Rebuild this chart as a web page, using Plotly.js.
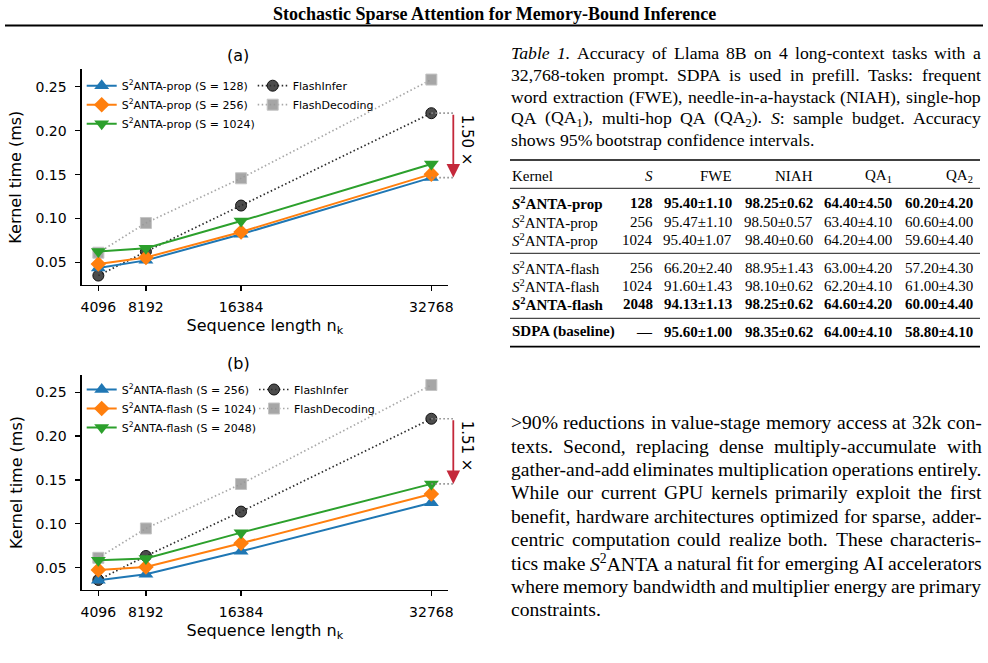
<!DOCTYPE html>
<html>
<head>
<meta charset="utf-8">
<script src="https://cdn.plot.ly/plotly-3.0.1.min.js"></script>
<style>
  html, body { margin: 0; padding: 0; background: #fff; }
  #fig { width: 988px; height: 663px; }
</style>
</head>
<body>
<div id="fig"></div>
<script>
// ---------- data ----------
const seqLen = [4096, 8192, 16384, 32768];
const seqTickText = ['4096', '8192', '16384', '32768'];
const timeTicks = [0.05, 0.10, 0.15, 0.20, 0.25];
const timeTickText = ['0.05', '0.10', '0.15', '0.20', '0.25'];

// (a) proportional-sampling kernels, kernel time in ms
const propS128 = [0.0438, 0.0525, 0.0822, 0.1466];
const propS256 = [0.0483, 0.0558, 0.0848, 0.1505];
const propS1024 = [0.0625, 0.0662, 0.0972, 0.1620];
const propLabels = ['S<sup>2</sup>ANTA-prop (S = 128)', 'S<sup>2</sup>ANTA-prop (S = 256)', 'S<sup>2</sup>ANTA-prop (S = 1024)'];
const flashInferA = [0.0352, 0.0625, 0.1148, 0.2198];
const flashDecodingA = [0.0612, 0.0950, 0.1458, 0.2580];

// (b) flash-style kernels, kernel time in ms
const flashS256 = [0.0355, 0.0425, 0.0687, 0.1240];
const flashS1024 = [0.0474, 0.0508, 0.0778, 0.1340];
const flashS2048 = [0.0585, 0.0605, 0.0899, 0.1455];
const flashLabels = ['S<sup>2</sup>ANTA-flash (S = 256)', 'S<sup>2</sup>ANTA-flash (S = 1024)', 'S<sup>2</sup>ANTA-flash (S = 2048)'];
const flashInferB = [0.0360, 0.0633, 0.1139, 0.2198];
const flashDecodingB = [0.0612, 0.0947, 0.1454, 0.2583];

const baselineNames = ['FlashInfer', 'FlashDecoding'];

// Table 1
const tableHeader = ['Kernel', '<i>S</i>', 'FWE', 'NIAH', 'QA<sub>1</sub>', 'QA<sub>2</sub>'];
const tableKernel = ['<i>S</i><sup>2</sup>ANTA-prop', '<i>S</i><sup>2</sup>ANTA-prop', '<i>S</i><sup>2</sup>ANTA-prop',
                     '<i>S</i><sup>2</sup>ANTA-flash', '<i>S</i><sup>2</sup>ANTA-flash', '<i>S</i><sup>2</sup>ANTA-flash',
                     'SDPA (baseline)'];
const tableBudget = ['128', '256', '1024', '256', '1024', '2048', '—'];
const tableFWE = ['95.40±1.10', '95.47±1.10', '95.40±1.07', '66.20±2.40', '91.60±1.43', '94.13±1.13', '95.60±1.00'];
const tableNIAH = ['98.25±0.62', '98.50±0.57', '98.40±0.60', '88.95±1.43', '98.10±0.62', '98.25±0.62', '98.35±0.62'];
const tableQA1 = ['64.40±4.50', '63.40±4.10', '64.20±4.00', '63.00±4.20', '62.20±4.10', '64.60±4.20', '64.00±4.10'];
const tableQA2 = ['60.20±4.20', '60.60±4.00', '59.60±4.40', '57.20±4.30', '61.00±4.30', '60.00±4.40', '58.80±4.10'];
const tableHighlight = [true, false, false, false, false, true, true];

// running text
const headerText = 'Stochastic Sparse Attention for Memory-Bound Inference';
const captionLines = [
  '<i>Table</i> <i>1.</i> Accuracy of Llama 8B on 4 long-context tasks with a',
  '32,768-token prompt. SDPA is used in prefill. Tasks: frequent',
  'word extraction (FWE), needle-in-a-haystack (NIAH), single-hop',
  'QA (QA<sub>1</sub>), multi-hop QA (QA<sub>2</sub>). <i>S</i>: sample budget. Accuracy',
  'shows 95% bootstrap confidence intervals.'
];
const bodyLines = [
  '>90% reductions in value-stage memory access at 32k con-',
  'texts. Second, replacing dense multiply-accumulate with',
  'gather-and-add eliminates multiplication operations entirely.',
  'While our current GPU kernels primarily exploit the first',
  'benefit, hardware architectures optimized for sparse, adder-',
  'centric computation could realize both. These characteris-',
  'tics make <i>S</i><sup>2</sup>ANTA a natural fit for emerging AI accelerators',
  'where memory bandwidth and multiplier energy are primary',
  'constraints.'
];

// ---------- page geometry ----------
const W = 988, H = 663;
const px = x => x / W;
const py = y => 1 - y / H;
const SANS = 'DejaVu Sans';
const SERIF = 'Liberation Serif';

const xDomain = [px(81.7), px(448)];
const xRange = [2662, 34202];
const yRange = [0.0245, 0.2697];
const yDomainA = [py(285), py(69.3)];
const yDomainB = [py(590), py(375)];
const xToPaper = v => xDomain[0] + (v - xRange[0]) / (xRange[1] - xRange[0]) * (xDomain[1] - xDomain[0]);

const annotations = [];
const shapes = [];

// ---------- text measuring / justification ----------
const ctx = document.createElement('canvas').getContext('2d');
function plainWidth(t, family, size, bold, italic) {
  ctx.font = (italic ? 'italic ' : '') + (bold ? 'bold ' : '') + size + 'px "' + family + '"';
  return ctx.measureText(t).width;
}
function richWidth(str, family, size, bold) {
  const re = /<(\/?)(b|i|sup|sub)>/g;
  const st = { b: !!bold, i: false, sup: false, sub: false };
  let last = 0, w = 0, m;
  const seg = t => t ? plainWidth(t, family, (st.sup || st.sub) ? size * 0.7 : size, st.b, st.i) : 0;
  while ((m = re.exec(str))) {
    w += seg(str.slice(last, m.index));
    st[m[2]] = m[1] !== '/';
    last = re.lastIndex;
  }
  return w + seg(str.slice(last));
}
function textLine(line, x0, x1, yPx, family, size, justify) {
  const words = line.split(' ');
  const widths = words.map(w => richWidth(w, family, size, false));
  const total = widths.reduce((a, b) => a + b, 0);
  const gap = (justify && words.length > 1) ? (x1 - x0 - total) / (words.length - 1)
                                             : plainWidth(' ', family, size, false, false);
  let x = x0;
  words.forEach((w, i) => {
    annotations.push({
      text: w, xref: 'paper', yref: 'paper', x: px(x), y: py(yPx),
      xanchor: 'left', yanchor: 'middle', showarrow: false,
      borderpad: 0, borderwidth: 0,
      font: { family, size, color: '#000' }
    });
    x += widths[i] + gap;
  });
}
function label(text, xPx, yPx, family, size, anchor) {
  annotations.push({
    text, xref: 'paper', yref: 'paper', x: px(xPx), y: py(yPx),
    xanchor: anchor || 'center', yanchor: 'middle', showarrow: false,
    borderpad: 0, borderwidth: 0, font: { family, size, color: '#000' }
  });
}
function rule(x0, x1, yPx, width) {
  shapes.push({ type: 'line', xref: 'paper', yref: 'paper', x0: px(x0), x1: px(x1),
                y0: py(yPx), y1: py(yPx), line: { color: '#000', width } });
}

// running header
const headerSize = 445 / plainWidth(headerText, SERIF, 1, true, false);
label('<b>' + headerText + '</b>', 494, 14, SERIF, headerSize);
rule(5, 983, 25.5, 2);

// table caption (justified)
captionLines.forEach((ln, i) => textLine(ln, 511, 980.5, 53.3 + i * 21.7, SERIF, 17.7, i < captionLines.length - 1));

// body paragraph (justified)
bodyLines.forEach((ln, i) => textLine(ln, 511, 981.5, 422.7 + i * 23.4, SERIF, 19.6, i < bodyLines.length - 1));

// ---------- Table 1 ----------
const colRight = [null, 652.7, 732.3, 813.3, 891.7, 973.3];
const headerY = 175.7;
const rowY = [203.3, 221.7, 240, 267.7, 286, 304.3, 331.7];
const TSIZE = 15;
tableHeader.forEach((h, c) => {
  if (c === 0) label(h, 511.7, headerY, SERIF, TSIZE, 'left');
  else label(h, colRight[c], headerY, SERIF, TSIZE, 'right');
});
const tableCols = [tableKernel, tableBudget, tableFWE, tableNIAH, tableQA1, tableQA2];
rowY.forEach((y, r) => {
  tableCols.forEach((col, c) => {
    const t = tableHighlight[r] ? '<b>' + col[r] + '</b>' : col[r];
    if (c === 0) label(t, 511.7, y, SERIF, TSIZE, 'left');
    else label(t, colRight[c], y, SERIF, TSIZE, 'right');
  });
});
rule(510, 980, 160, 1.7);
rule(510, 980, 188.3, 0.9);
rule(510, 980, 253.3, 0.9);
rule(510, 980, 318.3, 0.9);
rule(510, 980, 346.7, 1.7);

// ---------- figure panels ----------
const DOTS = '1.5px,2.5px';
const s2Styles = [
  { color: '#1f77b4', symbol: 'triangle-up', size: 13 },
  { color: '#ff7f0e', symbol: 'diamond', size: 12 },
  { color: '#2ca02c', symbol: 'triangle-down', size: 13 }
];
function panelTraces(xa, ya, series, labels, fi, fd, legMain, legBase) {
  const out = [];
  out.push({
    x: seqLen, y: fi, name: baselineNames[0], xaxis: xa, yaxis: ya, legend: legBase,
    mode: 'lines+markers', line: { color: '#2b2b2b', width: 1.7, dash: DOTS },
    marker: { symbol: 'circle', size: 11, color: 'rgba(45,45,45,0.85)', line: { color: '#111', width: 1 } }
  });
  out.push({
    x: seqLen, y: fd, name: baselineNames[1], xaxis: xa, yaxis: ya, legend: legBase,
    mode: 'lines+markers', line: { color: '#a8a8a8', width: 1.7, dash: DOTS },
    marker: { symbol: 'square', size: 11, color: 'rgba(150,150,150,0.85)', line: { color: '#c4c4c4', width: 1 } }
  });
  series.forEach((ys, i) => {
    const s = s2Styles[i];
    out.push({
      x: seqLen, y: ys, name: labels[i], xaxis: xa, yaxis: ya, legend: legMain,
      mode: 'lines+markers', line: { color: s.color, width: 2 },
      marker: { symbol: s.symbol, size: s.size, color: s.color, line: { width: 0 } }
    });
  });
  return out;
}

const traces = [].concat(
  panelTraces('x', 'y', [propS128, propS256, propS1024], propLabels, flashInferA, flashDecodingA, 'legend', 'legend2'),
  panelTraces('x2', 'y2', [flashS256, flashS1024, flashS2048], flashLabels, flashInferB, flashDecodingB, 'legend3', 'legend4')
);

// speed-up bracket: FlashInfer vs. the chosen S2ANTA configuration at the longest context
function speedup(ya, top, bottom) {
  const arrowX = px(453.3);
  const ratio = top / bottom;
  [top, bottom].forEach(v => shapes.push({
    type: 'line', xref: 'paper', yref: ya, x0: xToPaper(seqLen[3]), x1: arrowX, y0: v, y1: v,
    line: { color: '#8a8a8a', width: 1.7, dash: DOTS }
  }));
  annotations.push({
    text: '', xref: 'paper', yref: ya, x: arrowX, y: bottom,
    axref: 'pixel', ax: 0, ayref: ya, ay: top,
    showarrow: true, arrowhead: 2, arrowsize: 1.5, arrowwidth: 1.8, arrowcolor: '#c4283a', standoff: 0
  });
  annotations.push({
    text: ratio.toFixed(2) + ' ×', xref: 'paper', yref: ya, x: px(466.7), y: (top + bottom) / 2, yshift: 5,
    textangle: 90, showarrow: false, font: { family: SANS, size: 15, color: '#000' }
  });
}
speedup('y', flashInferA[3], propS128[3]);
speedup('y2', flashInferB[3], flashS2048[3]);

label('(a)', 238, 55, SANS, 16);
label('(b)', 238, 363, SANS, 16);

function xAxis(anchor) {
  return {
    domain: xDomain, anchor, range: xRange, fixedrange: true,
    tickmode: 'array', tickvals: seqLen, ticktext: seqTickText,
    showline: true, linecolor: '#000', linewidth: 1.25, mirror: false,
    ticks: 'outside', ticklen: 5, tickwidth: 1.25, tickcolor: '#000', ticklabelstandoff: 4,
    showgrid: false, zeroline: false,
    tickfont: { family: SANS, size: 14, color: '#000' },
    title: { text: 'Sequence length n<sub>k</sub>', font: { family: SANS, size: 16, color: '#000' }, standoff: 5 }
  };
}
function yAxis(domain, anchor) {
  return {
    domain, anchor, range: yRange, fixedrange: true,
    tickmode: 'array', tickvals: timeTicks, ticktext: timeTickText,
    showline: true, linecolor: '#000', linewidth: 1.25, mirror: false,
    ticks: 'outside', ticklen: 5, tickwidth: 1.25, tickcolor: '#000', ticklabelstandoff: 6,
    showgrid: false, zeroline: false,
    tickfont: { family: SANS, size: 14, color: '#000' },
    title: { text: 'Kernel time (ms)', font: { family: SANS, size: 16, color: '#000' }, standoff: 9 }
  };
}
function legendAt(xPx, yPx) {
  return {
    x: px(xPx), y: py(yPx), xanchor: 'left', yanchor: 'top',
    bgcolor: 'rgba(0,0,0,0)', borderwidth: 0, itemwidth: 30, tracegroupgap: 0,
    font: { family: SANS, size: 11, color: '#000' }
  };
}

const layout = {
  width: W, height: H,
  margin: { l: 0, r: 0, t: 0, b: 0 },
  paper_bgcolor: '#ffffff', plot_bgcolor: 'rgba(0,0,0,0)',
  showlegend: true,
  xaxis: xAxis('y'), yaxis: yAxis(yDomainA, 'x'),
  xaxis2: xAxis('y2'), yaxis2: yAxis(yDomainB, 'x2'),
  legend: legendAt(81.7, 71.2), legend2: legendAt(252.7, 71.2),
  legend3: legendAt(81.7, 375), legend4: legendAt(254, 375),
  annotations, shapes
};

Plotly.newPlot('fig', traces, layout, { staticPlot: true, displayModeBar: false });
</script>
</body>
</html>
